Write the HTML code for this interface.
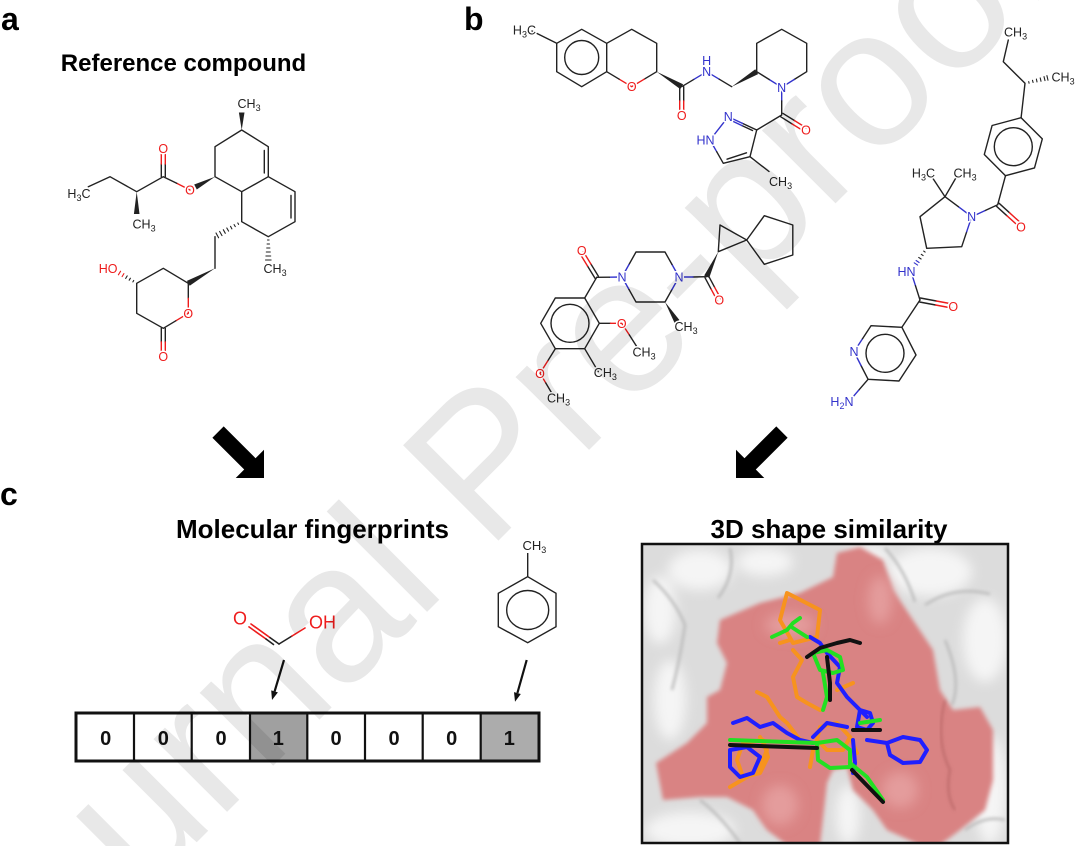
<!DOCTYPE html>
<html><head><meta charset="utf-8"><style>
html,body{margin:0;padding:0;background:#fff;width:1080px;height:846px;overflow:hidden;}
svg{display:block;font-family:"Liberation Sans",Arial,sans-serif;overflow:hidden}
.b{stroke:#222;stroke-width:1.4;fill:none;stroke-linecap:round;stroke-linejoin:round}
.b .r{stroke:#ee1c1c}
.b .n{stroke:#3333cc}
.t{font-size:12.5px;fill:#222;stroke:#fff;stroke-width:3;paint-order:stroke;stroke-linejoin:round}
.t.o{fill:#ee1c1c}.t.nn{fill:#3333cc}
.m{text-anchor:middle}.e{text-anchor:end}
.w{fill:#222;stroke:none}
.st{fill:none;stroke-width:4;stroke-linecap:round;stroke-linejoin:round}
</style></head><body>
<svg width="1080" height="846" viewBox="0 0 1080 846" xmlns="http://www.w3.org/2000/svg">
<defs>
<clipPath id="cp"><rect x="642" y="544" width="366" height="299"/></clipPath>
<clipPath id="all"><rect x="0" y="0" width="1080" height="846"/></clipPath>
<filter id="bl6" x="-50%" y="-50%" width="200%" height="200%"><feGaussianBlur stdDeviation="6"/></filter>
<filter id="bl2" x="-20%" y="-20%" width="140%" height="140%"><feGaussianBlur stdDeviation="2"/></filter>
<filter id="bl1"><feGaussianBlur stdDeviation="1.5"/></filter>
</defs>
<rect width="1080" height="846" fill="#fff"/>

<!-- panel letters & titles -->
<text x="1" y="30" font-size="32" font-weight="bold">a</text>
<text x="464" y="30" font-size="32" font-weight="bold">b</text>
<text x="0" y="505" font-size="32" font-weight="bold">c</text>
<text x="183.5" y="71" font-size="24" font-weight="bold" class="m">Reference compound</text>
<text x="312.5" y="538" font-size="26" font-weight="bold" class="m">Molecular fingerprints</text>
<text x="829" y="538" font-size="26" font-weight="bold" class="m">3D shape similarity</text>

<!-- ===== Compound 1 (reference) ===== -->
<g class="b">
<path d="M241.7 130 L268.3 146.7 L268.3 176.7 L241.7 191.7 L215 176.7 L215 146.7 Z"/>
<path d="M264.3 150.5 L264.3 173"/>
<path d="M268.3 176.7 L295 191.7 L295 221.7 L268.3 236.7 L241.7 221.7 L241.7 191.7"/>
<path d="M291 195.5 L291 218"/>
<path d="M215 236.7 L215 268.3"/>
<path d="M188.3 283.3 L188.3 298.3"/>
<path class="r" d="M188.3 298.3 L188.3 313.3 L175.8 320.8"/>
<path d="M175.8 320.8 L163.3 328.3 L136.7 313.3 L136.7 283.3 L163.3 268.3 L188.3 283.3"/>
<path d="M161.3 328.3 L161.3 342 M165.3 328.3 L165.3 342"/>
<path class="r" d="M161.3 342 L161.3 352 M165.3 342 L165.3 352"/>
<path class="r" d="M190 190 L176.7 183.3"/>
<path d="M176.7 183.3 L163.3 176.7 L136.7 191.7 L110 176.7 L88.3 186.7"/>
<path d="M161.3 176.7 L161.3 164 M165.3 176.7 L165.3 164"/>
<path class="r" d="M161.3 164 L161.3 153 M165.3 164 L165.3 153"/>
<path stroke-width="1.1" d="M267.5 240 L269.1 240 M267.1 244 L269.5 244 M266.7 248 L269.9 248 M266.3 252 L270.3 252 M265.9 256 L270.7 256 M265.5 260 L271.1 260"/>
<path stroke-width="1.1" d="M238.6 224.4 L237.8 223 M235.3 226.6 L234.1 224.6 M231.9 228.9 L230.5 226.3 M228.6 231.1 L226.8 228 M225.3 233.3 L223.3 229.7 M222 235.6 L219.6 231.4 M218.6 237.8 L216 233"/>
<path stroke-width="1.1" d="M133.7 280.5 L132.9 281.9 M130.4 278.2 L129.2 280.2 M127.2 275.9 L125.7 278.4"/>
<path class="r" stroke-width="1.1" d="M123.9 273.6 L122.1 276.6 M120.6 271.2 L118.4 274.8"/>
</g>
<polygon class="w" points="241.7,130 238.9,112.5 244.5,112.5"/>
<polygon class="w" points="215,176.7 196.8,189.5 194.2,184.5"/>
<polygon class="w" points="215,268.3 189.7,285.7 186.9,280.9"/>
<polygon class="w" points="136.7,191.7 133.9,214 139.5,214"/>
<g class="t">
<text x="237.5" y="108">CH<tspan dy="3" font-size="9">3</tspan></text>
<text x="263.5" y="273">CH<tspan dy="3" font-size="9">3</tspan></text>
<text x="132.5" y="228.5">CH<tspan dy="3" font-size="9">3</tspan></text>
<text x="90.5" y="198" class="e">H<tspan dy="3" font-size="9">3</tspan><tspan dy="-3">C</tspan></text>
</g>
<g class="t o m">
<text x="163.3" y="152.8">O</text>
<text x="190" y="194.5">O</text>
<text x="188.3" y="317.8">O</text>
<text x="163.3" y="361">O</text>
</g>
<text class="t o e" x="117.5" y="272.8">HO</text>

<!-- ===== Compound 2 ===== -->
<g class="b">
<path d="M532 31 L556.7 43.3"/>
<path d="M556.7 43.3 L581.7 29.3 L606.7 43.3 L606.7 71.7 L581.7 86.7 L556.7 71.7 Z"/>
<circle cx="581.7" cy="57.5" r="17"/>
<path d="M606.7 43.3 L631.7 29.3 L656.7 43.3 L656.7 71.7 L644.2 79.2"/>
<path class="r" d="M644.2 79.2 L631.7 86.7 L619.2 79.2"/>
<path d="M619.2 79.2 L606.7 71.7"/>
<path d="M679.7 86.7 L679.7 101 M683.7 86.7 L683.7 101"/>
<path class="r" d="M679.7 101 L679.7 111 M683.7 101 L683.7 111"/>
<path d="M681.7 86.7 L694.2 79.2"/>
<path class="n" d="M694.2 79.2 L706.7 71.7 L719.2 79.2"/>
<path d="M719.2 79.2 L731.7 86.7"/>
<path d="M756.7 71.7 L756.7 43.3 L781.7 29.3 L806.7 43.3 L806.7 71.7 L794.2 79.5"/>
<path class="n" d="M794.2 79.5 L781.7 87.3 L769.2 79.5"/>
<path d="M769.2 79.5 L756.7 71.7"/>
<path class="n" d="M781.7 87.3 L781.7 101"/>
<path d="M781.7 101 L781.7 115"/>
<path d="M780.6 116.7 L792.2 124 M782.8 113.3 L794.4 120.5"/>
<path class="r" d="M792.2 124 L803.9 131.2 M794.4 120.5 L806.1 127.8"/>
<path d="M781.7 115 L756.7 130 L742.5 123.4"/>
<path class="n" d="M742.5 123.4 L728.3 116.7 L710 140 L716.7 151.7"/>
<path d="M752.5 130.5 L742 125.6"/>
<path class="n" d="M742 125.6 L731.5 120.6"/>
<path d="M716.7 151.7 L723.3 163.3 L750 156.7 L756.7 130"/>
<path d="M727 159.2 L746.5 152.8"/>
<path d="M750 156.7 L769 171.5"/>
</g>
<polygon class="w" points="656.7,71.7 683.1,84.3 680.3,89.1"/>
<polygon class="w" points="731.7,86.7 758.1,74.1 755.3,69.3"/>
<g class="t">
<text x="536" y="34.5" class="e">H<tspan dy="3" font-size="9">3</tspan><tspan dy="-3">C</tspan></text>
<text x="769" y="186">CH<tspan dy="3" font-size="9">3</tspan></text>
</g>
<g class="t o m">
<text x="631.7" y="91.2">O</text>
<text x="681.7" y="120">O</text>
<text x="806" y="134.5">O</text>
</g>
<g class="t nn m">
<text x="706.7" y="76.2">N</text>
<text x="706.7" y="65">H</text>
<text x="781.7" y="91.8">N</text>
<text x="728.3" y="121.2">N</text>
</g>
<text class="t nn e" x="714.5" y="144.5">HN</text>

<!-- ===== Compound 3 ===== -->
<g class="b">
<path d="M720 225 L746.7 240 L718.3 251.7 Z"/>
<path d="M746.7 240 L764.3 215.7 L792.8 225 L792.8 255 L764.3 264.3 Z"/>
<path d="M708.5 275.8 L714.7 287.4 M705 277.7 L711.2 289.3"/>
<path class="r" d="M714.7 287.4 L721 299 M711.2 289.3 L717.5 301"/>
<path d="M706.7 276.7 L693 277"/>
<path class="n" d="M693 277 L679 277 L672 264.5"/>
<path d="M672 264.5 L665 252 L636 252 L629 264.5"/>
<path class="n" d="M629 264.5 L622 277 L629 289.5"/>
<path d="M629 289.5 L636 302 L665 302 L672 289.5"/>
<path class="n" d="M672 289.5 L679 277"/>
<path class="n" d="M622 277 L609.4 277.2"/>
<path d="M609.4 277.2 L596.7 277.3"/>
<path d="M598.4 276.3 L590.9 264 M595 278.3 L587.5 266"/>
<path class="r" d="M590.9 264 L583.4 251.7 M587.5 266 L580 253.7"/>
<path d="M596.7 277.3 L584.7 298"/>
<path d="M599.3 323.3 L584.7 298 L555.3 298 L540.7 323.3 L555.3 348.7 L584.7 348.7 Z"/>
<circle cx="570" cy="323.3" r="19"/>
<path d="M599.3 323.3 L610.5 323.3"/>
<path class="r" d="M610.5 323.3 L621.7 323.3 L629.4 335"/>
<path d="M629.4 335 L637 347"/>
<path d="M584.7 348.7 L598.3 371.7"/>
<path d="M555.3 348.7 L547.7 361"/>
<path class="r" d="M547.7 361 L540 373.3 L545.8 383"/>
<path d="M545.8 383 L551.7 393"/>
</g>
<polygon class="w" points="718.3,251.7 709.2,277.9 704.2,275.5"/>
<polygon class="w" points="665,302 679.4,320 674.6,323"/>
<g class="t">
<text x="674.5" y="331">CH<tspan dy="3" font-size="9">3</tspan></text>
<text x="632.5" y="356.5">CH<tspan dy="3" font-size="9">3</tspan></text>
<text x="593.8" y="377">CH<tspan dy="3" font-size="9">3</tspan></text>
<text x="547" y="402.5">CH<tspan dy="3" font-size="9">3</tspan></text>
</g>
<g class="t o m">
<text x="719.3" y="304.5">O</text>
<text x="581.7" y="255">O</text>
<text x="621.7" y="327.8">O</text>
<text x="540" y="377.8">O</text>
</g>
<g class="t nn m">
<text x="679" y="281.5">N</text>
<text x="622" y="281.5">N</text>
</g>

<!-- ===== Compound 4 ===== -->
<g class="b">
<path d="M1008.3 40 L1003.3 61.7 L1025 83.3 L1021.1 117.7"/>
<path stroke-width="1.1" d="M1029.1 83.2 L1028.7 81.6 M1033.1 82.5 L1032.5 80.3 M1037 81.9 L1036.4 79.1 M1041 81.3 L1040.2 77.9 M1045 80.6 L1044 76.6 M1048 80.2 L1046.9 75.6"/>
<path d="M1021.1 117.7 L1042.3 138.9 L1034.5 167.9 L1005.5 175.7 L984.3 154.5 L992.1 125.5 Z"/>
<circle cx="1013.3" cy="146.7" r="19"/>
<path d="M1005.5 175.7 L997.7 204.7"/>
<path d="M996.4 206.2 L1007 215.8 M999 203.2 L1009.6 212.8"/>
<path class="r" d="M1007 215.8 L1017.7 225.5 M1009.6 212.8 L1020.3 222.5"/>
<path d="M997.7 204.7 L984.7 210.7"/>
<path class="n" d="M984.7 210.7 L971.7 216.7 L958.4 206.7"/>
<path d="M958.4 206.7 L945 196.7 L920 216.7 L926.7 248.3 L961.7 246.7 L966.7 231.7"/>
<path class="n" d="M966.7 231.7 L971.7 216.7"/>
<path d="M945 196.7 L931 175.5 M945 196.7 L957 176"/>
<path stroke-width="1.1" d="M925.1 252.1 L923.7 251.1 M923.1 255.6 L921.3 254.3 M921.1 259 L918.7 257.4"/>
<path class="n" stroke-width="1.1" d="M919.1 262.5 L916.1 260.5 M917.6 265.1 L914.2 262.8"/>
<path class="n" d="M911 271.7 L915.5 285.8"/>
<path d="M915.5 285.8 L920 300"/>
<path d="M919.6 302 L935.6 305 M920.4 298 L936.4 301"/>
<path class="r" d="M935.6 305 L951.6 308 M936.4 301 L952.4 304"/>
<path d="M920 300 L901.9 327.3 L916 355 L899 381 L868.1 379.3 L861 365.5"/>
<path class="n" d="M861 365.5 L854 351.7 L862.5 338.7"/>
<path d="M862.5 338.7 L871 325.7 L901.9 327.3"/>
<circle cx="885" cy="353.3" r="19"/>
<path d="M868.1 379.3 L858.5 390.4"/>
<path class="n" d="M858.5 390.4 L849 401.5"/>
</g>
<g class="t">
<text x="1004" y="36.5">CH<tspan dy="3" font-size="9">3</tspan></text>
<text x="1051.5" y="81.5">CH<tspan dy="3" font-size="9">3</tspan></text>
<text x="935" y="177.5" class="e">H<tspan dy="3" font-size="9">3</tspan><tspan dy="-3">C</tspan></text>
<text x="953.5" y="177.5">CH<tspan dy="3" font-size="9">3</tspan></text>
</g>
<g class="t o m">
<text x="1021" y="231.5">O</text>
<text x="953.3" y="311">O</text>
</g>
<g class="t nn">
<text x="971.7" y="221.2" class="m">N</text>
<text x="915.5" y="276" class="e">HN</text>
<text x="854" y="356.2" class="m">N</text>
<text x="853.5" y="406" class="e">H<tspan dy="3" font-size="9">2</tspan><tspan dy="-3">N</tspan></text>
</g>

<!-- big block arrows -->
<polygon fill="#000" points="0,0 -20,-20 -20,-8 -65,-8 -65,8 -20,8 -20,20" transform="translate(264,478) rotate(45)"/>
<polygon fill="#000" points="0,0 -20,-20 -20,-8 -65,-8 -65,8 -20,8 -20,20" transform="translate(736,478) rotate(135)"/>

<!-- ===== Fingerprint panel ===== -->
<g stroke-linecap="round" fill="none" stroke-width="1.6">
<path stroke="#ee1c1c" d="M251 624 L270 637.6 M249 626.9 L266 639"/>
<path stroke="#222" d="M270 637.6 L279 644 M266 639 L273.5 644.5"/>
<path stroke="#222" d="M279 644 L292 636"/>
<path stroke="#ee1c1c" d="M292 636 L305 628"/>
</g>
<text x="240" y="624.5" font-size="18" fill="#ee1c1c" class="m">O</text>
<text x="309" y="628.5" font-size="18" fill="#ee1c1c">OH</text>
<g stroke="#222" stroke-width="1.4" fill="none">
<path d="M527.7 553 L527.7 576.7"/>
<path d="M527.7 576.7 L556 593.3 L556 626.7 L527.7 642.7 L498.3 626.7 L498.3 593.3 Z"/>
<ellipse cx="527.7" cy="610" rx="21" ry="19.5"/>
</g>
<text x="522.5" y="550" font-size="13" fill="#222">CH<tspan dy="3" font-size="9">3</tspan></text>
<g stroke="#111" stroke-width="2.2" fill="none">
<path d="M284 660 L274.6 691.4"/>
<path d="M526.7 660 L517.4 693"/>
</g>
<polygon fill="#111" points="272,700 277.9,692.4 271.2,690.4"/>
<polygon fill="#111" points="515,701.7 520.8,694 514,692.1"/>
<rect x="250" y="713" width="57.3" height="48" fill="#a0a0a0"/>
<rect x="480.7" y="713" width="58.3" height="48" fill="#acacac"/>
<g stroke="#111" stroke-width="2.2">
<path d="M134 713 V761 M191.7 713 V761 M250 713 V761 M307.3 713 V761 M365 713 V761 M422.7 713 V761 M480.7 713 V761"/>
</g>
<rect x="76" y="713" width="463" height="48" fill="none" stroke="#111" stroke-width="3"/>
<g font-size="20" font-weight="bold" class="m" fill="#111">
<text x="105.7" y="745">0</text><text x="163.3" y="745">0</text><text x="221" y="745">0</text><text x="278.3" y="745">1</text>
<text x="336" y="745">0</text><text x="394" y="745">0</text><text x="451.7" y="745">0</text><text x="509.3" y="745">1</text>
</g>

<!-- ===== 3D shape panel ===== -->
<g clip-path="url(#cp)">
<rect x="642" y="544" width="366" height="299" fill="#dcdcdc"/>
<g fill="#f5f5f5" filter="url(#bl6)">
<ellipse cx="700" cy="570" rx="32" ry="20"/>
<ellipse cx="660" cy="610" rx="16" ry="34"/>
<ellipse cx="765" cy="562" rx="28" ry="14"/>
<ellipse cx="930" cy="572" rx="42" ry="24"/>
<ellipse cx="985" cy="640" rx="22" ry="42"/>
<ellipse cx="670" cy="700" rx="16" ry="40"/>
<ellipse cx="690" cy="830" rx="45" ry="18"/>
<ellipse cx="990" cy="790" rx="16" ry="55"/>
<ellipse cx="848" cy="815" rx="12" ry="30"/>
<ellipse cx="870" cy="556" rx="20" ry="10"/>
</g>
<g fill="none" stroke="#bbbbbb" stroke-width="2.5" filter="url(#bl1)">
<path d="M653 580 Q675 600 685 625 Q680 660 672 690"/>
<path d="M730 548 Q736 575 718 598"/>
<path d="M925 605 Q955 585 990 594"/>
<path d="M885 548 Q905 570 915 602"/>
<path d="M945 640 Q962 680 952 705"/>
<path d="M700 800 Q720 815 740 843"/>
<path d="M965 830 Q985 815 1005 820"/>
</g>
<path fill="#d98383" filter="url(#bl2)" d="M720 620 L760 603 L800 593 L833 577 L837 553 L860 547 L883 560 L893 590 L913 620 L933 650 L940 690 L953 710 L980 707 L993 730 L993 780 L985 810 L960 830 L940 845 L920 845 L887 830 L873 810 L853 790 L847 767 L833 770 L827 783 L820 845 L787 845 L767 830 L753 810 L727 797 L700 797 L663 800 L656 763 L687 743 L707 723 L707 697 L720 690 L727 663 L717 643 Z"/>
<g fill="#e49c9c" filter="url(#bl6)">
<ellipse cx="790" cy="625" rx="25" ry="12"/>
<ellipse cx="880" cy="600" rx="12" ry="24"/>
<ellipse cx="780" cy="805" rx="18" ry="20"/>
<ellipse cx="900" cy="790" rx="18" ry="18"/>
</g>
<path fill="none" stroke="#b06060" stroke-width="1.5" filter="url(#bl1)" d="M945 700 Q935 740 950 770 Q945 795 955 810"/>
<g class="st" stroke="#f7931e">
<path d="M787 593 L820 610 L817 637 L793 643 L780 620 Z"/>
<path d="M793 650 L802 660 L793 677 L797 697 L807 703 L820 710"/>
<path d="M757 692 L767 697 L780 717 L787 723 L800 740"/>
<path d="M820 727 L837 723 L850 737 L843 750 L827 750 L817 740 Z"/>
<path d="M730 787 L747 777 L760 767 L767 750 L760 737"/>
<path d="M743 743 L763 740 L768 757 L760 773 L743 777 L737 760 Z"/>
<path d="M837 690 L853 683 M850 737 L857 753 M813 750 L810 767 M780 643 L790 640"/>
</g>
<g class="st" stroke="#1f1fff">
<path d="M810 637 L820 643 L827 653 L840 667 L837 683 L847 697 L860 710 L867 717"/>
<path d="M860 710 L870 713 L873 723 L867 730 L857 727 Z"/>
<path d="M867 740 L887 743"/>
<path d="M887 743 L903 737 L920 740 L927 750 L920 762 L903 763 L890 755 Z"/>
<path d="M853 740 L855 763 L853 773"/>
<path d="M733 723 L747 718 L760 727 L773 723 L787 733 L800 740 L813 743"/>
<path d="M730 750 L747 747 L760 757 L753 773 L740 777 L730 767 Z"/>
<path d="M813 737 L827 723 L847 727"/>
</g>
<g class="st" stroke="#22e022">
<path d="M772 637 L787 630 L793 623 L800 618 M793 628 L807 637"/>
<path d="M813 653 L827 650 L840 657 L843 670 L833 673 L820 670 Z"/>
<path d="M823 673 L827 697 L823 710"/>
<path d="M730 740 L817 743"/>
<path d="M817 743 L837 740 L850 750 L850 767 L830 768 L818 760 Z"/>
<path d="M850 763 L867 777 L883 800"/>
<path d="M860 723 L880 720"/>
</g>
<g class="st" stroke="#111" stroke-width="3.5">
<path d="M807 657 L820 648 L837 643 L850 640 L860 643"/>
<path d="M827 657 L830 683 L830 700"/>
<path d="M730 745 L817 748"/>
<path d="M853 730 L880 730"/>
<path d="M852 770 L883 802"/>
</g>
</g>
<rect x="642" y="544" width="366" height="299" fill="none" stroke="#111" stroke-width="2.5"/>

<!-- watermark -->
<g clip-path="url(#all)">
<text transform="translate(-6,1045) rotate(-45)" font-size="196" fill="#000" fill-opacity="0.09">Journal Pre-proof</text>
</g>
</svg>
</body></html>
